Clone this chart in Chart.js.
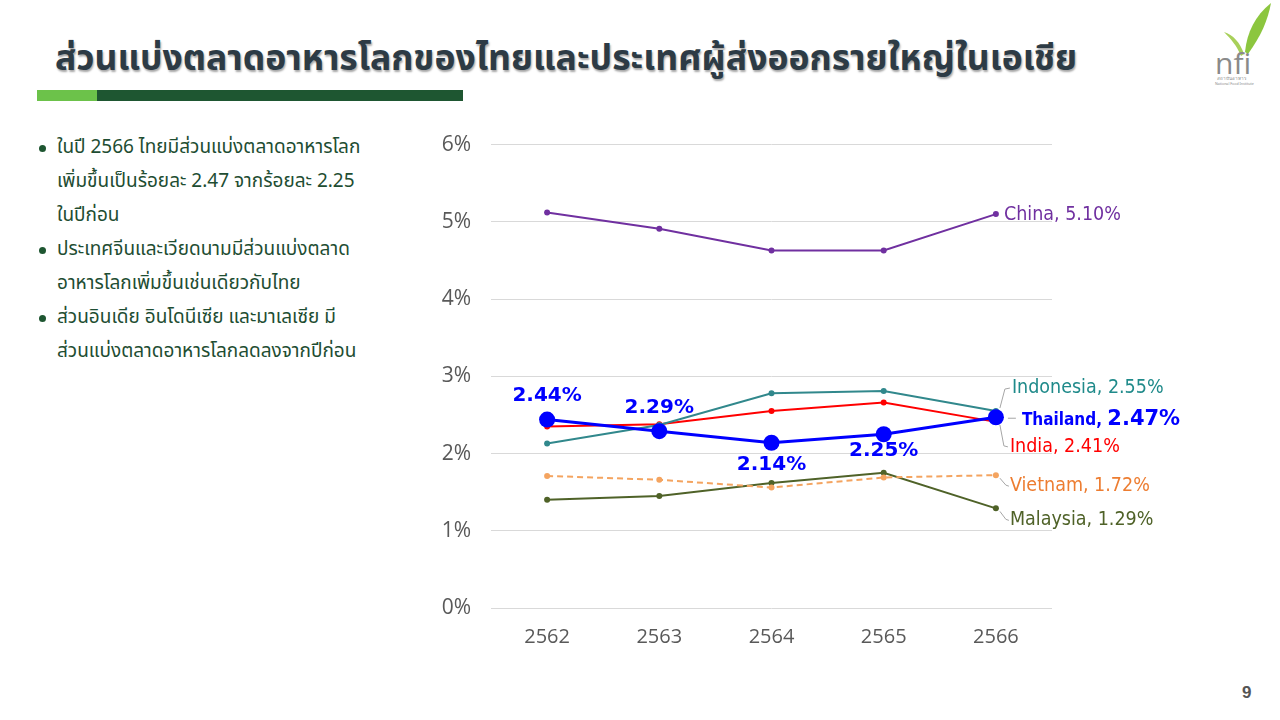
<!DOCTYPE html>
<html>
<head>
<meta charset="utf-8">
<script src="https://cdn.jsdelivr.net/npm/chart.js@4.4.1/dist/chart.umd.min.js"></script>
<style>
  html,body{margin:0;padding:0;background:#fff;}
  body{width:1280px;height:720px;position:relative;overflow:hidden;font-family:"Noto Sans Thai","Noto Sans","DejaVu Sans",sans-serif;}
  #title{position:absolute;left:55px;top:32px;font-size:35.5px;font-weight:bold;color:#2d3b45;
    text-shadow:1px 2px 2px rgba(0,0,0,0.35);white-space:nowrap;letter-spacing:0px;}
  #bar1{position:absolute;left:37px;top:90px;width:60px;height:11px;background:#6cc24a;}
  #bar2{position:absolute;left:97px;top:90px;width:366px;height:11px;background:#1e5631;}
  #bullets{position:absolute;left:36px;top:131px;width:360px;margin:0;padding:0;list-style:none;
    color:#1e4d32;font-size:19px;line-height:34px;}
  #bullets li{position:relative;padding-left:21px;}
  #bullets li:before{content:"";position:absolute;left:3px;top:14px;width:7px;height:7px;border-radius:50%;background:#1e5631;}
  #chartbox{position:absolute;left:400px;top:112px;width:880px;height:568px;}
  #page{position:absolute;left:1242px;top:683px;font-size:17px;font-weight:bold;color:#555;font-family:"Liberation Sans",sans-serif;}
  #logo{position:absolute;left:1205px;top:0px;width:75px;height:85px;}
</style>
</head>
<body>
<div id="title">ส่วนแบ่งตลาดอาหารโลกของไทยและประเทศผู้ส่งออกรายใหญ่ในเอเชีย</div>
<div id="bar1"></div><div id="bar2"></div>
<ul id="bullets">
  <li>ในปี 2566 ไทยมีส่วนแบ่งตลาดอาหารโลก<br>เพิ่มขึ้นเป็นร้อยละ 2.47 จากร้อยละ 2.25<br>ในปีก่อน</li>
  <li>ประเทศจีนและเวียดนามมีส่วนแบ่งตลาด<br>อาหารโลกเพิ่มขึ้นเช่นเดียวกับไทย</li>
  <li>ส่วนอินเดีย อินโดนีเซีย และมาเลเซีย มี<br>ส่วนแบ่งตลาดอาหารโลกลดลงจากปีก่อน</li>
</ul>
<svg id="logo" viewBox="0 0 75 85">
  <path d="M40 52 C42 32 50 16 66 3 C63 20 56 36 43 54 Z" fill="#8cc63f"/>
  <path d="M39 54 C35 42 28 35 19 32 C26 39 32 46 36 56 Z" fill="#a8d05a"/>
  <text x="10" y="74" font-family="Open Sans, sans-serif" font-size="30" fill="#8a8a8a">nfi</text>
  <text x="12" y="80" font-family="Noto Sans, sans-serif" font-size="4.5" fill="#8a8a8a">สถาบันอาหาร</text>
  <text x="10" y="85" font-family="Noto Sans, sans-serif" font-size="3.6" fill="#8a8a8a">National Food Institute</text>
</svg>
<div id="chartbox"><canvas id="c"></canvas></div>
<div id="page">9</div>
<script>
// ---- data ----
const years = ["2562","2563","2564","2565","2566"];
const yTicks = [0,1,2,3,4,5,6];
const thailand  = [2.44, 2.29, 2.14, 2.25, 2.47];
const china     = [5.12, 4.91, 4.63, 4.63, 5.10];
const indonesia = [2.13, 2.37, 2.78, 2.81, 2.55];
const india     = [2.35, 2.38, 2.55, 2.66, 2.41];
const vietnam   = [1.71, 1.66, 1.56, 1.69, 1.72];
const malaysia  = [1.40, 1.45, 1.62, 1.75, 1.29];
const seriesNames = ["Thailand","China","Indonesia","India","Vietnam","Malaysia"];

// ---- styles ----
const styles = {
  Thailand:  {line:"#0000ff", text:"#0000ff", width:3, radius:8},
  China:     {line:"#7030a0", text:"#7030a0", width:2, radius:3},
  Indonesia: {line:"#31888c", text:"#1f8a8a", width:2, radius:3},
  India:     {line:"#ff0000", text:"#ff0000", width:2, radius:3},
  Vietnam:   {line:"#f4a460", text:"#ed7d31", width:2, radius:3, dash:[6,4]},
  Malaysia:  {line:"#4f6228", text:"#4f6228", width:2, radius:3}
};
// end-label placement relative to last point (px)
const endLabelPos = {
  China:     {dx:8,  dy:1,   leader:null},
  Indonesia: {dx:16, dy:-23, leader:[[4,-3],[9,-22],[14,-23]]},
  Thailand:  {dx:26, dy:2,   leader:[[12,1],[20,1]]},
  India:     {dx:14, dy:25,  leader:[[4,3],[8,24],[12,25]]},
  Vietnam:   {dx:14, dy:11,  leader:[[4,3],[10,10],[13,11]]},
  Malaysia:  {dx:14, dy:12,  leader:[[4,3],[10,11],[13,12]]}
};
// thailand point labels offsets (px)
const thaiLabelDy = [-24, -23, 22, 17];

const dataMap = {Thailand:thailand, China:china, Indonesia:indonesia, India:india, Vietnam:vietnam, Malaysia:malaysia};

const datasets = seriesNames.map((n,i)=>({
  label:n,
  data:dataMap[n],
  borderColor:styles[n].line,
  backgroundColor:styles[n].line,
  pointBackgroundColor:styles[n].line,
  pointBorderColor:styles[n].line,
  borderWidth:styles[n].width,
  pointRadius:styles[n].radius,
  pointBorderWidth:0,
  borderDash:styles[n].dash||[],
  tension:0,
  order:i
}));

const labelPlugin = {
  id:"labels",
  afterDatasetsDraw(chart){
    const ctx = chart.ctx;
    chart.data.datasets.forEach((ds,di)=>{
      const meta = chart.getDatasetMeta(di);
      const name = ds.label;
      const last = meta.data[meta.data.length-1];
      const pos = endLabelPos[name];
      const val = ds.data[ds.data.length-1].toFixed(2)+"%";
      ctx.save();
      if(pos.leader){
        ctx.strokeStyle="#a6a6a6"; ctx.lineWidth=1;
        ctx.beginPath();
        pos.leader.forEach((p,k)=>{ const x=last.x+p[0], y=last.y+p[1]; if(k===0) ctx.moveTo(x,y); else ctx.lineTo(x,y);});
        ctx.stroke();
      }
      ctx.textBaseline="middle"; ctx.textAlign="left";
      ctx.fillStyle=styles[name].text;
      const x0=last.x+pos.dx, y0=last.y+pos.dy;
      if(name==="Thailand"){
        ctx.font='bold 17px "DejaVu Sans Condensed","DejaVu Sans",sans-serif';
        const t1="Thailand, ";
        ctx.fillText(t1,x0,y0+1);
        const w=ctx.measureText(t1).width;
        ctx.font='bold 21px "DejaVu Sans",sans-serif';
        ctx.fillText(val,x0+w,y0);
      } else {
        ctx.font='19.5px "DejaVu Sans Condensed","DejaVu Sans",sans-serif';
        ctx.fillText(name+", "+val,x0,y0);
      }
      if(name==="Thailand"){
        ctx.textAlign="center";
        ctx.font='bold 20px "DejaVu Sans",sans-serif';
        for(let k=0;k<thaiLabelDy.length;k++){
          const p=meta.data[k];
          ctx.fillText(ds.data[k].toFixed(2)+"%",p.x,p.y+thaiLabelDy[k]);
        }
      }
      ctx.restore();
    });
  }
};

new Chart(document.getElementById("c"),{
  type:"line",
  data:{labels:years, datasets:datasets},
  options:{
    responsive:true, maintainAspectRatio:false, animation:false,
    layout:{padding:{top:16,right:228,left:0,bottom:0}},
    plugins:{legend:{display:false}, tooltip:{enabled:false}},
    scales:{
      x:{
        offset:true,
        grid:{display:false, drawTicks:false},
        border:{display:false},
        ticks:{color:"#595959", font:{family:"Open Sans", size:20}, padding:17},
        afterFit(s){ s.height=72; }
      },
      y:{
        min:0, max:6,
        afterBuildTicks(s){ s.ticks = yTicks.map(v=>({value:v})); },
        grid:{color:"#d9d9d9", drawTicks:false, lineWidth:1},
        border:{display:false},
        ticks:{color:"#595959", font:{family:"Open Sans", size:21}, padding:20, callback:v=>v+"%"},
        afterFit(s){ s.width=91; }
      }
    }
  },
  plugins:[labelPlugin]
});
</script>
</body>
</html>
